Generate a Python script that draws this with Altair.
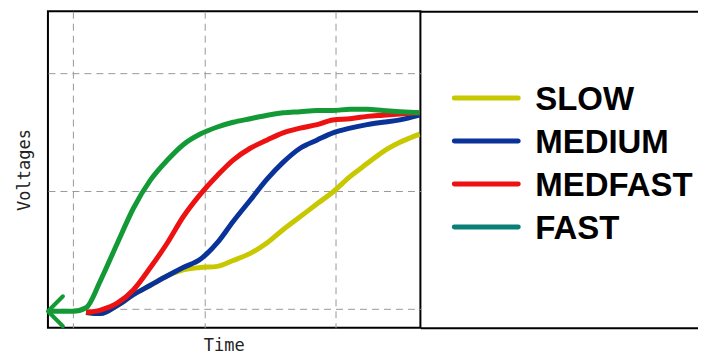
import altair as alt
import pandas as pd

# ---- data ----
series = ["SLOW", "MEDIUM", "MEDFAST", "FAST"]
line_colors = ["#c8c800", "#0a3399", "#ee1111", "#139a36"]
legend_colors = ["#c8c800", "#0a3399", "#ee1111", "#0a7f78"]

time = [0.81, 0.90, 1.00, 1.10, 1.21, 1.34, 1.46, 1.59, 1.72, 1.84, 1.97, 2.10,
        2.22, 2.35, 2.48, 2.60, 2.73, 2.86, 2.98, 3.11, 3.24, 3.36, 3.49, 3.64]

slow = [None, None, None, -0.03, -0.04, 0.03, 0.12, 0.20, 0.28, 0.33, 0.35, 0.36,
        0.41, 0.47, 0.56, 0.67, 0.78, 0.89, 0.99, 1.12, 1.23, 1.33, 1.41, 1.48]
medium = [None, None, None, -0.03, -0.04, 0.03, 0.12, 0.20, 0.28, 0.35, 0.42, 0.56,
          0.74, 0.92, 1.10, 1.24, 1.36, 1.43, 1.49, 1.53, 1.56, 1.58, 1.60, 1.64]
medfast = [None, None, None, -0.03, -0.01, 0.05, 0.16, 0.35, 0.56, 0.78, 0.97, 1.13,
           1.26, 1.36, 1.43, 1.49, 1.53, 1.56, 1.60, 1.61, 1.63, 1.64, 1.65, 1.66]
fast = [-0.02, -0.02, -0.02, 0.01, 0.24, 0.56, 0.85, 1.09, 1.26, 1.39, 1.48, 1.54,
        1.58, 1.61, 1.64, 1.66, 1.67, 1.68, 1.68, 1.69, 1.69, 1.68, 1.67, 1.66]

x_grid = [1, 2, 3]
y_grid = [0, 1, 2]

rows = []
for name, vals in zip(series, [slow, medium, medfast, fast]):
    for t, v in zip(time, vals):
        if v is not None:
            rows.append({"series": name, "time": t, "voltage": v})
df = pd.DataFrame(rows)

arrow_df = df[df.series == "FAST"].head(1)
legend_df = pd.DataFrame({"series": series, "color": legend_colors})

title_font = "DejaVu Sans Mono"
frame_color = "#000000"

x_scale = alt.Scale(domain=[0.81, 3.646], nice=False, zero=False)
y_scale = alt.Scale(domain=[-0.16, 2.52], nice=False, zero=False)

x_axis = alt.Axis(values=x_grid, labels=False, ticks=False, domain=False,
                  grid=True, gridDash=[7, 5], gridColor="#999999", gridWidth=1,
                  title="Time", titleFont=title_font, titleFontSize=17,
                  titleFontWeight="normal", titleColor="#222222",
                  titlePadding=10, titleX=176)
y_axis = alt.Axis(values=y_grid, labels=False, ticks=False, domain=False,
                  grid=True, gridDash=[7, 5], gridColor="#999999", gridWidth=1,
                  title="Voltages", titleFont=title_font, titleFontSize=17,
                  titleFontWeight="normal", titleColor="#222222",
                  titlePadding=14)

lines = alt.Chart(df).mark_line(strokeWidth=5, interpolate="monotone").encode(
    x=alt.X("time:Q", scale=x_scale, axis=x_axis),
    y=alt.Y("voltage:Q", scale=y_scale, axis=y_axis),
    color=alt.Color("series:N", scale=alt.Scale(domain=series, range=line_colors),
                    legend=None),
    order=alt.Order("time:Q"),
)

arrow = alt.Chart(arrow_df).mark_point(
    shape="M1,-1L0,0L1,1", size=900, filled=False, strokeWidth=4,
    color="#139a36", opacity=1, strokeCap="round", strokeJoin="round",
).encode(
    x=alt.X("time:Q", scale=x_scale),
    y=alt.Y("voltage:Q", scale=y_scale),
)

plot = alt.layer(lines, arrow).properties(
    width=373, height=317,
    view=alt.ViewBackground(stroke=frame_color, strokeWidth=2),
)

row_scale = alt.Scale(type="point", domain=series, range=[87, 216], padding=0)

leg_lines = alt.Chart(legend_df).mark_rule(strokeWidth=5, strokeCap="round").encode(
    x=alt.value(34), x2=alt.value(98),
    y=alt.Y("series:N", scale=row_scale, axis=None),
    color=alt.Color("color:N", scale=None),
)
leg_text = alt.Chart(legend_df).mark_text(
    align="left", baseline="middle", font="Liberation Sans", fontWeight="bold",
    fontSize=33, color="#000000", dy=2,
).encode(
    x=alt.value(115),
    y=alt.Y("series:N", scale=row_scale, axis=None),
    text="series:N",
)

frame_axis = dict(labels=False, ticks=False, grid=False, title=None,
                  domain=True, domainColor=frame_color, domainWidth=2)
frame_bottom = alt.Chart(legend_df).mark_point(opacity=0).encode(
    x=alt.X("series:N", axis=alt.Axis(orient="bottom", **frame_axis)),
    y=alt.value(0),
)
frame_top = alt.Chart(legend_df).mark_point(opacity=0).encode(
    x=alt.X("series:N", axis=alt.Axis(orient="top", **frame_axis)),
    y=alt.value(0),
)

legend_panel = alt.layer(frame_bottom, frame_top, leg_lines, leg_text).resolve_axis(
    x="independent"
).properties(
    width=278, height=317,
    view=alt.ViewBackground(stroke=None),
)

chart = alt.hconcat(plot, legend_panel, spacing=0, bounds="flush").properties(
    padding={"left": 7, "top": 0, "right": 0, "bottom": 0},
    background="#ffffff",
)

chart.save("out.html", embed_options={"renderer": "svg", "actions": False})
